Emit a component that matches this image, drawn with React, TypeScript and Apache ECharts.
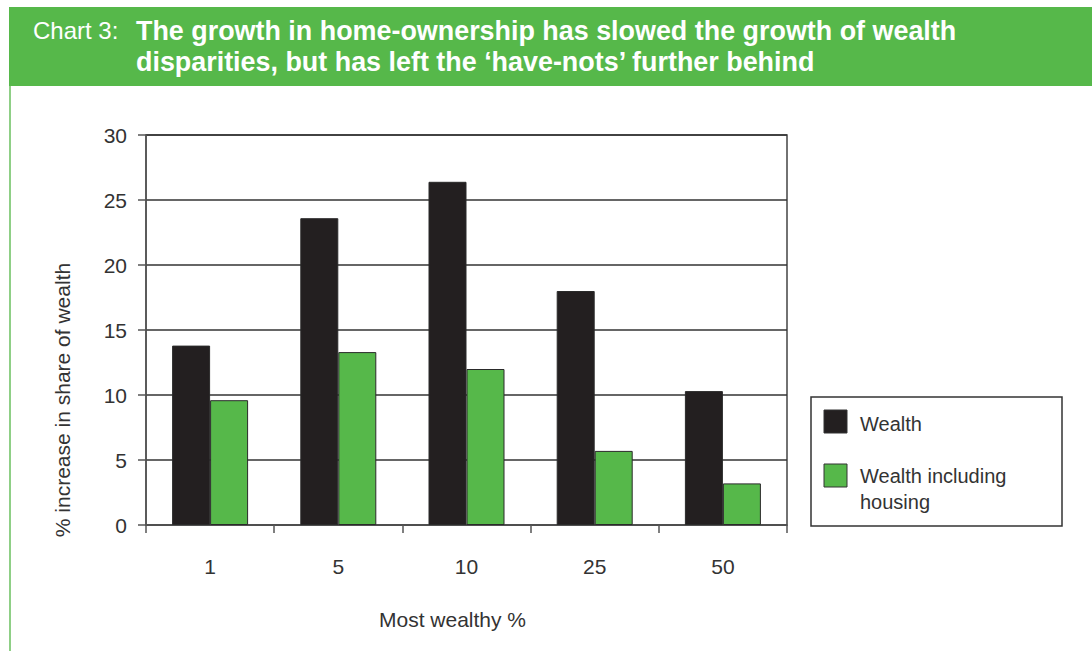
import React, { useEffect, useRef } from "react";
import * as echarts from "echarts";

const categories = ["1", "5", "10", "25", "50"];
const wealth = [13.8, 23.6, 26.4, 18.0, 10.3];
const wealthHousing = [9.6, 13.3, 12.0, 5.7, 3.2];
const seriesNames = ["Wealth", "Wealth including housing"];
const yTicks = { min: 0, max: 30, interval: 5 };

const BLACK = "#231f20";
const GREEN = "#56b84a";
const TEXT = "#333333";
const FONT = "'Liberation Sans', Arial, Helvetica, sans-serif";

export default function App() {
  const ref = useRef<HTMLDivElement>(null);
  useEffect(() => {
    const chart = echarts.init(ref.current!, null, { renderer: "svg" });
    chart.setOption({
      animation: false,
      backgroundColor: "#ffffff",
      textStyle: { fontFamily: FONT },
      grid: {
        left: 146,
        right: 305,
        top: 135,
        bottom: 126,
        show: true,
        borderColor: "#444",
        borderWidth: 1.5,
      },
      xAxis: {
        type: "category",
        data: categories,
        axisLine: { lineStyle: { color: "#555", width: 1.5 } },
        axisTick: { show: true, length: 8, lineStyle: { color: "#555", width: 1.5 } },
        axisLabel: { color: TEXT, fontSize: 21, margin: 31, fontFamily: FONT },
        name: "Most wealthy %",
        nameLocation: "middle",
        nameGap: 84,
        nameTextStyle: { color: TEXT, fontSize: 21, fontFamily: FONT, padding: [0, 28, 0, 0] },
      },
      yAxis: {
        type: "value",
        min: yTicks.min,
        max: yTicks.max,
        interval: yTicks.interval,
        axisLine: { show: true, lineStyle: { color: "#555", width: 1.5 } },
        axisTick: { show: true, length: 8, lineStyle: { color: "#555", width: 1.5 } },
        axisLabel: { color: TEXT, fontSize: 21, margin: 19, fontFamily: FONT },
        splitLine: { show: true, lineStyle: { color: "#333", width: 1.5 } },
      },
      series: [
        {
          name: seriesNames[0],
          type: "bar",
          data: wealth,
          barWidth: 38,
          barGap: "0%",
          itemStyle: { color: BLACK, borderColor: "#2a2a2a", borderWidth: 1 },
        },
        {
          name: seriesNames[1],
          type: "bar",
          data: wealthHousing,
          barWidth: 38,
          barGap: "0%",
          itemStyle: { color: GREEN, borderColor: "#2a2a2a", borderWidth: 1 },
        },
      ],
      graphic: [
        { type: "rect", shape: { x: 9, y: 7, width: 1083, height: 79 }, style: { fill: GREEN }, silent: true },
        { type: "rect", shape: { x: 9, y: 86, width: 2, height: 565 }, style: { fill: "#8fcf86" }, silent: true },
        {
          type: "text",
          x: 33,
          y: 30,
          style: { text: "Chart 3:", fill: "#ffffff", font: `24px ${FONT}`, textVerticalAlign: "middle" },
        },
        {
          type: "text",
          x: 136,
          y: 15,
          style: {
            text: "The growth in home-ownership has slowed the growth of wealth\ndisparities, but has left the \u2018have-nots\u2019 further behind",
            fill: "#ffffff",
            font: `bold 26.9px ${FONT}`,
            lineHeight: 31,
            textVerticalAlign: "top",
          },
        },
        {
          type: "text",
          x: 62,
          y: 400,
          rotation: Math.PI / 2,
          style: {
            text: "% increase in share of wealth",
            fill: TEXT,
            font: `21px ${FONT}`,
            textAlign: "center",
            textVerticalAlign: "middle",
          },
        },
        { type: "rect", shape: { x: 811, y: 397, width: 251, height: 129 }, style: { fill: "#fff", stroke: "#333", lineWidth: 1.5 } },
        { type: "rect", shape: { x: 824, y: 410, width: 23, height: 23 }, style: { fill: BLACK, stroke: "#333", lineWidth: 1 } },
        { type: "rect", shape: { x: 824, y: 464, width: 23, height: 23 }, style: { fill: GREEN, stroke: "#333", lineWidth: 1 } },
        {
          type: "text",
          x: 860,
          y: 424,
          style: { text: seriesNames[0], fill: TEXT, font: `20px ${FONT}`, textVerticalAlign: "middle" },
        },
        {
          type: "text",
          x: 860,
          y: 463,
          style: { text: "Wealth including\nhousing", fill: TEXT, font: `20px ${FONT}`, lineHeight: 26, textVerticalAlign: "top" },
        },
      ],
    });
    return () => chart.dispose();
  }, []);
  return <div ref={ref} style={{ position: "fixed", left: 0, top: 0, width: 1092, height: 651 }} />;
}
